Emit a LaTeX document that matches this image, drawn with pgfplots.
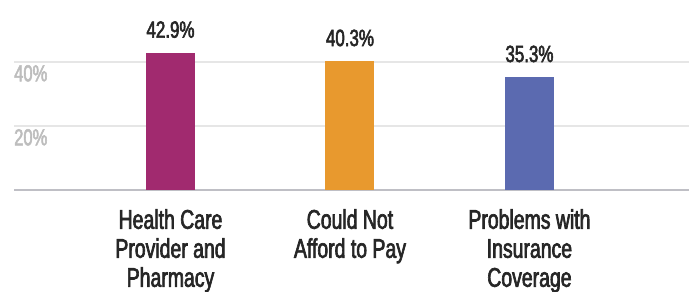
\documentclass[border=0pt]{standalone}
\usepackage{fontspec}
\setmainfont{Liberation Sans}[FakeStretch=0.72, FakeBold=2.4]
\usepackage{pgfplots}
\pgfplotsset{compat=1.18}
\definecolor{c1}{HTML}{A12A6F}
\definecolor{c2}{HTML}{E8992E}
\definecolor{c3}{HTML}{5B6AB0}
\definecolor{txt}{HTML}{262626}
\definecolor{tickgray}{HTML}{BDBDBD}
\definecolor{gridgray}{HTML}{E6E6E6}
\definecolor{axgray}{HTML}{BFBFC5}
\begin{document}
\begin{tikzpicture}
\useasboundingbox (0,0) rectangle (689pt,292pt);
\begin{axis}[
  at={(14pt,102pt)}, anchor=south west,
  scale only axis, width=675pt, height=190pt,
  xmin=-0.872, xmax=2.889, ymin=0, ymax=59.375,
  xtick={0,1,2},
  xticklabels={Health Care\\Provider and\\Pharmacy, Could Not\\Afford to Pay, Problems with\\Insurance\\Coverage},
  xticklabel style={align=center, anchor=north, inner sep=0pt, yshift=-19pt, font=\fontsize{27}{29}\selectfont, text=txt},
  ytick={20,40}, yticklabels={20\%,40\%},
  yticklabel style={anchor=north west, inner sep=0pt, yshift=-3pt, font=\fontsize{23}{26}\selectfont, text=tickgray},
  major tick length=0pt,
  ymajorgrids, grid style={draw=gridgray, line width=1.5pt},
  axis x line*=bottom, axis y line*=left,
  x axis line style={draw=axgray, line width=2pt},
  y axis line style={draw=none},
  ybar, bar width=49pt, bar shift=0pt,
  point meta=explicit symbolic,
  nodes near coords,
  nodes near coords style={anchor=base, inner sep=0pt, yshift=15pt, font=\fontsize{23.5}{25}\selectfont, text=txt},
  clip=false,
]
\addplot[fill=c1, draw=none] coordinates {(0,42.9) [42.9\%]};
\addplot[fill=c2, draw=none] coordinates {(1,40.3) [40.3\%]};
\addplot[fill=c3, draw=none] coordinates {(2,35.3) [35.3\%]};
\end{axis}
\end{tikzpicture}
\end{document}
